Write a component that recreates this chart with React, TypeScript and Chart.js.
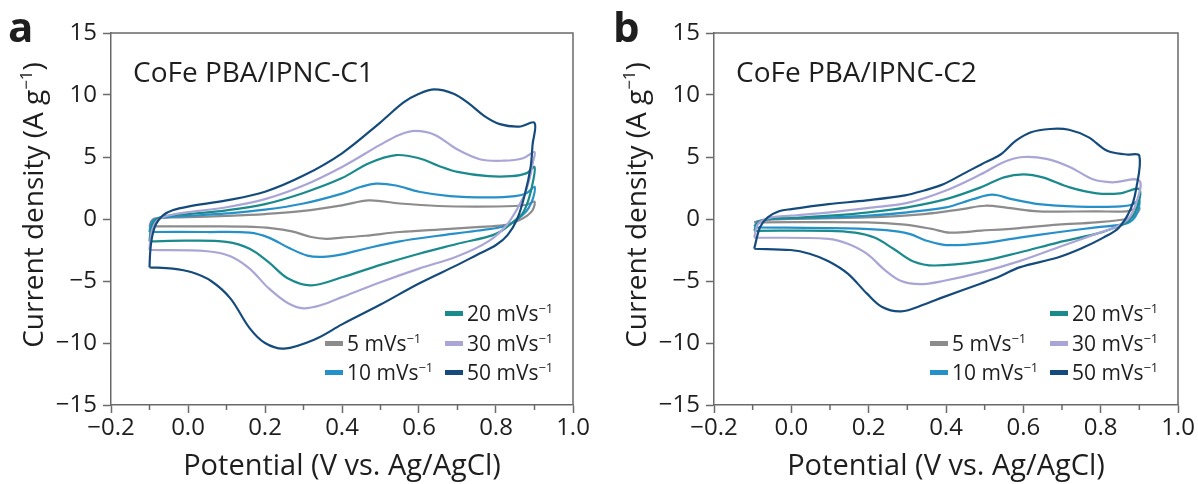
import React, { useEffect, useRef } from 'react';
import { Chart, registerables } from 'chart.js';

Chart.register(...registerables);

// ---------- data ----------
const SCAN_RATES = ['5', '10', '20', '30', '50'];
const SERIES_COLORS = ['#8c8c8c', '#2690c8', '#1b8a8c', '#a9a5d6', '#154b7c'];
const X_TICK_MIN = -0.2;
const X_TICK_MAX = 1.0;
const Y_TICK_MIN = -15;
const Y_TICK_MAX = 15;
const MINOR_X_TICKS = [-0.1, 0.1, 0.3, 0.5, 0.7, 0.9];
const PANEL_LETTERS = ['a', 'b'];
const PANEL_TITLES = ['CoFe PBA/IPNC-C1', 'CoFe PBA/IPNC-C2'];

// Panel a (C1) — potentials (V) and current densities (A/g) along each closed CV loop
const A5_V = [-0.1, -0.095, -0.085, -0.05, 0, 0.1, 0.2, 0.3, 0.4, 0.47, 0.55, 0.65, 0.75, 0.85, 0.88, 0.9, 0.895, 0.88, 0.86, 0.82, 0.75, 0.65, 0.55, 0.46, 0.4, 0.36, 0.32, 0.27, 0.22, 0.15, 0.05, -0.1];
const A5_I = [-0.6, -0.15, 0.05, 0.12, 0.15, 0.25, 0.4, 0.65, 1.1, 1.5, 1.25, 1.05, 1.0, 1.05, 1.15, 1.4, 0.7, 0.25, -0.1, -0.5, -0.65, -0.85, -1.05, -1.35, -1.5, -1.6, -1.45, -1.0, -0.75, -0.62, -0.6, -0.6];

const A10_V = [-0.1, -0.097, -0.09, -0.07, -0.03, 0, 0.1, 0.2, 0.3, 0.4, 0.45, 0.49, 0.54, 0.6, 0.68, 0.78, 0.85, 0.88, 0.9, 0.897, 0.885, 0.87, 0.83, 0.75, 0.65, 0.55, 0.46, 0.4, 0.35, 0.31, 0.26, 0.21, 0.16, 0.05, -0.1];
const A10_I = [-1.05, -0.5, -0.1, 0.1, 0.2, 0.25, 0.45, 0.75, 1.25, 2.05, 2.6, 2.85, 2.7, 2.2, 1.85, 1.75, 1.85, 2.1, 2.6, 1.75, 0.9, 0.35, -0.5, -0.95, -1.35, -1.8, -2.4, -2.85, -3.05, -2.95, -2.3, -1.5, -1.1, -1.05, -1.05];

const A20_V = [-0.1, -0.097, -0.09, -0.075, -0.04, 0, 0.1, 0.2, 0.3, 0.4, 0.47, 0.54, 0.6, 0.65, 0.7, 0.78, 0.84, 0.88, 0.9, 0.896, 0.885, 0.87, 0.85, 0.8, 0.7, 0.6, 0.5, 0.4, 0.32, 0.26, 0.21, 0.16, 0.1, 0, -0.1];
const A20_I = [-1.8, -1.0, -0.3, 0.1, 0.3, 0.4, 0.7, 1.2, 2.1, 3.3, 4.5, 5.15, 4.9, 4.3, 3.8, 3.45, 3.45, 3.7, 4.2, 3.0, 1.6, 0.5, -0.1, -1.2, -2.0, -2.8, -3.7, -4.7, -5.35, -4.8, -3.5, -2.4, -1.85, -1.75, -1.8];

const A30_V = [-0.1, -0.097, -0.09, -0.075, -0.04, 0, 0.1, 0.2, 0.3, 0.4, 0.5, 0.55, 0.59, 0.64, 0.7, 0.76, 0.82, 0.87, 0.9, 0.896, 0.885, 0.87, 0.83, 0.78, 0.7, 0.6, 0.5, 0.4, 0.35, 0.3, 0.26, 0.21, 0.16, 0.11, 0.05, -0.1];
const A30_I = [-2.5, -1.5, -0.6, 0.0, 0.35, 0.55, 0.95, 1.6, 2.7, 4.2, 6.0, 6.8, 7.1, 6.8, 5.6, 4.8, 4.7, 4.9, 5.4, 4.6, 3.0, 1.7, -0.4, -1.8, -3.0, -4.0, -5.1, -6.3, -6.9, -7.2, -6.8, -5.6, -4.0, -3.0, -2.6, -2.5];

const A50_V = [-0.1, -0.098, -0.093, -0.083, -0.065, -0.04, 0, 0.1, 0.2, 0.3, 0.4, 0.5, 0.56, 0.6, 0.64, 0.69, 0.73, 0.77, 0.81, 0.86, 0.9, 0.895, 0.89, 0.875, 0.855, 0.83, 0.8, 0.75, 0.7, 0.6, 0.5, 0.4, 0.33, 0.25, 0.2, 0.16, 0.11, 0.06, 0.01, -0.04, -0.1];
const A50_I = [-3.9, -2.6, -1.4, -0.4, 0.3, 0.7, 1.0, 1.5, 2.2, 3.5, 5.3, 7.8, 9.4, 10.1, 10.45, 10.1, 9.3, 8.3, 7.65, 7.45, 7.75, 6.0, 4.2, 2.0, 0.0, -1.3, -2.1, -2.9, -3.7, -5.2, -6.9, -8.5, -9.7, -10.45, -10.0, -8.8, -6.4, -5.0, -4.3, -4.0, -3.9];

// Panel b (C2)
const B5_V = [-0.096, -0.072, 0, 0.195, 0.343, 0.442, 0.501, 0.56, 0.64, 0.788, 0.867, 0.9, 0.891, 0.867, 0.788, 0.689, 0.59, 0.491, 0.41, 0.363, 0.294, 0.195, -0.096];
const B5_I = [-0.27, -0.08, 0.0, 0.13, 0.4, 0.8, 1.07, 0.9, 0.62, 0.62, 0.62, 0.9, 0.35, 0.0, -0.27, -0.46, -0.73, -0.94, -1.1, -0.8, -0.46, -0.27, -0.27];

const B10_V = [-0.096, -0.085, -0.05, 0, 0.1, 0.2, 0.3, 0.4, 0.47, 0.52, 0.57, 0.64, 0.74, 0.84, 0.88, 0.9, 0.891, 0.867, 0.788, 0.689, 0.59, 0.491, 0.4, 0.35, 0.305, 0.245, 0.146, -0.096];
const B10_I = [-0.6, -0.2, 0.0, 0.05, 0.13, 0.27, 0.54, 0.94, 1.6, 1.96, 1.6, 1.2, 1.0, 1.0, 1.15, 1.5, 0.27, -0.35, -0.67, -1.07, -1.5, -1.96, -2.1, -1.75, -1.2, -0.9, -0.75, -0.67];

const B20_V = [-0.096, -0.086, -0.06, 0, 0.1, 0.2, 0.3, 0.4, 0.49, 0.55, 0.6, 0.65, 0.72, 0.79, 0.85, 0.9, 0.891, 0.867, 0.827, 0.788, 0.689, 0.59, 0.491, 0.37, 0.314, 0.264, 0.215, 0.165, 0.096, -0.096];
const B20_I = [-0.95, -0.27, 0.0, 0.08, 0.27, 0.54, 0.94, 1.6, 2.55, 3.36, 3.6, 3.36, 2.55, 2.07, 2.07, 2.4, 0.7, -0.27, -0.8, -1.2, -1.9, -2.7, -3.4, -3.75, -3.4, -2.4, -1.5, -1.1, -0.95, -0.95];

const B30_V = [-0.096, -0.086, -0.052, 0, 0.1, 0.2, 0.3, 0.4, 0.49, 0.55, 0.6, 0.66, 0.72, 0.78, 0.83, 0.9, 0.891, 0.871, 0.837, 0.788, 0.689, 0.59, 0.491, 0.392, 0.333, 0.284, 0.245, 0.195, 0.146, 0.096, -0.096];
const B30_I = [-1.5, -0.4, 0.13, 0.27, 0.54, 0.9, 1.3, 2.3, 3.6, 4.6, 5.0, 4.85, 4.2, 3.2, 2.96, 3.1, 1.2, 0.0, -0.67, -1.2, -2.3, -3.4, -4.3, -5.0, -5.25, -5.0, -4.2, -2.8, -2.0, -1.6, -1.5];

const B50_V = [-0.096, -0.081, -0.061, -0.032, 0, 0.096, 0.195, 0.294, 0.343, 0.393, 0.442, 0.491, 0.541, 0.58, 0.62, 0.669, 0.718, 0.768, 0.817, 0.867, 0.9, 0.891, 0.876, 0.847, 0.807, 0.748, 0.689, 0.59, 0.541, 0.491, 0.393, 0.343, 0.284, 0.235, 0.195, 0.146, 0.096, 0.047, -0.002, -0.096];
const B50_I = [-2.4, -0.67, 0.13, 0.62, 0.8, 1.2, 1.5, 1.9, 2.3, 2.8, 3.6, 4.4, 5.2, 6.3, 7.0, 7.26, 7.2, 6.6, 5.5, 5.2, 5.1, 2.3, 0.7, -0.7, -1.5, -2.4, -3.1, -3.9, -4.6, -5.2, -6.3, -6.9, -7.45, -7.1, -6.0, -4.4, -3.4, -2.8, -2.5, -2.4];

const PANEL_A = [[A5_V, A5_I], [A10_V, A10_I], [A20_V, A20_I], [A30_V, A30_I], [A50_V, A50_I]];
const PANEL_B = [[B5_V, B5_I], [B10_V, B10_I], [B20_V, B20_I], [B30_V, B30_I], [B50_V, B50_I]];

// ---------- styling ----------
const FONT = "'Open Sans', 'Noto Sans', sans-serif";
const TEXT_COLOR = '#1e1e1e';
const AXIS_COLOR = '#6a6a6a';
const W = 599;
const H = 484;

type PanelLayout = { left: number; right: number; top: number; bottom: number };
const LAYOUTS: PanelLayout[] = [
  { left: 111, right: 573, top: 33, bottom: 405 },
  { left: 115, right: 579, top: 33, bottom: 405 },
];

function drawRich(ctx: CanvasRenderingContext2D, parts: { t: string; sup?: boolean }[], x: number, y: number, size: number, measureOnly = false) {
  let cx = x;
  const supSize = Math.round(size * 0.62);
  for (const p of parts) {
    ctx.font = `${p.sup ? supSize : size}px ${FONT}`;
    const w = ctx.measureText(p.t).width;
    if (!measureOnly) ctx.fillText(p.t, cx, p.sup ? y - size * 0.38 : y);
    cx += w;
  }
  return cx - x;
}

function makeDecor(panel: number) {
  return {
    id: 'decor' + panel,
    afterDraw(chart: any) {
      const { ctx, chartArea: ca, scales } = chart;
      const xs = scales.x;
      ctx.save();
      // top and right frame
      ctx.strokeStyle = AXIS_COLOR;
      ctx.lineWidth = 1.5;
      ctx.beginPath();
      ctx.moveTo(ca.left, ca.top);
      ctx.lineTo(ca.right, ca.top);
      ctx.lineTo(ca.right, ca.bottom);
      ctx.stroke();
      // minor x ticks
      ctx.beginPath();
      for (const v of MINOR_X_TICKS) {
        const px = xs.getPixelForValue(v);
        ctx.moveTo(px, ca.bottom);
        ctx.lineTo(px, ca.bottom + 5);
      }
      ctx.stroke();

      ctx.fillStyle = TEXT_COLOR;
      ctx.textBaseline = 'alphabetic';
      ctx.textAlign = 'left';
      // panel letter
      ctx.font = `bold 42px ${FONT}`;
      ctx.fillText(PANEL_LETTERS[panel], panel === 0 ? 8 : 14, 42);
      // inner title
      ctx.font = `28px ${FONT}`;
      ctx.fillText(PANEL_TITLES[panel], ca.left + 22, 82);

      // y title (rotated)
      const yParts = [{ t: 'Current density (A g' }, { t: '\u22121', sup: true }, { t: ')' }];
      const tw = drawRich(ctx, yParts, 0, 0, 28, true);
      ctx.save();
      ctx.translate(panel === 0 ? 43 : 47, 205);
      ctx.rotate(-Math.PI / 2);
      drawRich(ctx, yParts, -tw / 2, 0, 28);
      ctx.restore();

      // legend
      const rows = [ca.bottom - 84, ca.bottom - 54, ca.bottom - 25];
      const col1 = ca.right - 248;
      const col2 = ca.right - 128;
      const entries = [
        { i: 0, x: col1, y: rows[1] },
        { i: 1, x: col1, y: rows[2] },
        { i: 2, x: col2, y: rows[0] },
        { i: 3, x: col2, y: rows[1] },
        { i: 4, x: col2, y: rows[2] },
      ];
      for (const e of entries) {
        ctx.strokeStyle = SERIES_COLORS[e.i];
        ctx.lineWidth = 5;
        ctx.beginPath();
        ctx.moveTo(e.x, e.y - 7.5);
        ctx.lineTo(e.x + 18, e.y - 7.5);
        ctx.stroke();
        ctx.fillStyle = TEXT_COLOR;
        drawRich(ctx, [{ t: `${SCAN_RATES[e.i]} mVs` }, { t: '\u22121', sup: true }], e.x + 22, e.y, 21);
      }
      ctx.restore();
    },
  };
}

function fmtX(v: number) {
  const n = Number(v);
  return (n < -1e-9 ? '\u2212' : '') + Math.abs(n).toFixed(1);
}
function fmtY(v: number) {
  const n = Number(v);
  return (n < -1e-9 ? '\u2212' : '') + Math.abs(Math.round(n)).toString();
}

function CVChart({ panel }: { panel: number }) {
  const ref = useRef<HTMLCanvasElement | null>(null);
  useEffect(() => {
    if (!ref.current) return;
    const lay = LAYOUTS[panel];
    const src = panel === 0 ? PANEL_A : PANEL_B;
    const datasets = src.map(([vs, is], i) => ({
      label: `${SCAN_RATES[i]} mV/s`,
      data: vs.map((v, k) => ({ x: v, y: is[k] })),
      showLine: true,
      borderColor: SERIES_COLORS[i],
      backgroundColor: SERIES_COLORS[i],
      borderWidth: 2.2,
      pointRadius: 0,
      tension: 0.35,
      fill: false,
      order: 5 - i,
    }));
    const chart = new Chart(ref.current, {
      type: 'scatter',
      data: { datasets },
      options: {
        animation: false,
        responsive: false,
        maintainAspectRatio: false,
        layout: { padding: { left: 0, top: lay.top, right: W - lay.right, bottom: 0 } },
        plugins: { legend: { display: false }, tooltip: { enabled: false } },
        scales: {
          x: {
            type: 'linear',
            min: X_TICK_MIN,
            max: X_TICK_MAX,
            afterFit: (s: any) => { s.height = H - lay.bottom; },
            ticks: { stepSize: 0.2, callback: (v: any) => fmtX(v), font: { family: FONT, size: 24 }, color: TEXT_COLOR, padding: 1, maxRotation: 0, autoSkip: false },
            grid: { drawOnChartArea: false, drawTicks: true, tickLength: 8, color: AXIS_COLOR, tickWidth: 1.5 },
            border: { display: true, color: AXIS_COLOR, width: 1.5 },
            title: { display: true, text: 'Potential (V vs. Ag/AgCl)', font: { family: FONT, size: 29 }, color: TEXT_COLOR, padding: { top: 0, bottom: 0 } },
          },
          y: {
            type: 'linear',
            min: Y_TICK_MIN,
            max: Y_TICK_MAX,
            afterFit: (s: any) => { s.width = lay.left; },
            ticks: { stepSize: 5, callback: (v: any) => fmtY(v), font: { family: FONT, size: 24 }, color: TEXT_COLOR, padding: 6 },
            grid: { drawOnChartArea: false, drawTicks: true, tickLength: 8, color: AXIS_COLOR, tickWidth: 1.5 },
            border: { display: true, color: AXIS_COLOR, width: 1.5 },
          },
        },
      },
      plugins: [makeDecor(panel)],
    } as any);
    return () => chart.destroy();
  }, [panel]);
  return <canvas ref={ref} width={W} height={H} style={{ display: 'block', width: W, height: H }} />;
}

export default function App() {
  return (
    <div style={{ position: 'absolute', left: 0, top: 0, width: 1198, height: 484, background: '#fff', display: 'flex' }}>
      <CVChart panel={0} />
      <CVChart panel={1} />
    </div>
  );
}
